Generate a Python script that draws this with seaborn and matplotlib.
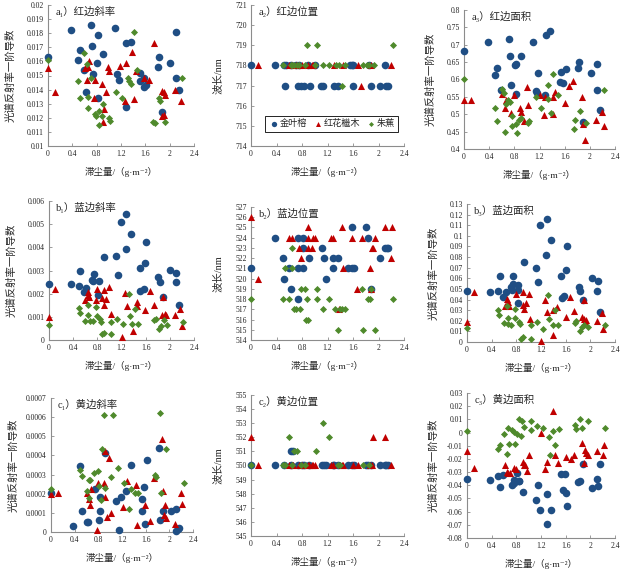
import numpy as np
import pandas as pd
import seaborn as sns
import matplotlib.pyplot as plt
from matplotlib.ticker import MultipleLocator, FuncFormatter

# 物种
species = ['金叶榕', '红花檵木', '朱蕉']

# a1 红边斜率 (x=滞尘量, y)
a1_blue = [(0, .0163), (.37, .0182), (.71, .0186), (1.10, .0184), (.83, .0179), (.72, .0171), (.52, .0168),
           (.49, .0161), (.90, .0165), (.81, .0159), (.59, .0154), (.74, .0151), (.62, .0138), (.82, .0134),
           (1.13, .0151), (1.17, .0147), (1.28, .0128), (1.29, .0173), (1.36, .0174), (1.52, .0152), (1.52, .0146),
           (1.57, .0148), (1.58, .0142), (1.61, .0143), (1.82, .0163), (1.80, .0156), (1.87, .0124), (2.01, .0159),
           (2.11, .0181), (2.10, .0148), (2.15, .0140)]
a1_red = [(0, .0155), (.11, .0138), (.60, .0155), (.66, .0156), (.64, .0147), (.67, .0160), (.78, .0147), (.76, .0134),
          (.89, .0144), (.95, .0138), (.92, .0126), (.90, .0117), (.98, .0156), (1.01, .0153), (1.19, .0157),
          (1.28, .0159), (1.27, .0132), (1.38, .0167), (1.41, .0133), (1.45, .0153), (1.57, .0148), (1.66, .0147),
          (1.74, .0173), (1.88, .0139), (1.90, .0138), (1.93, .0136), (1.87, .0121), (1.91, .0122), (2.09, .0140),
          (2.18, .0132)]
a1_green = [(0, .0161), (.49, .0146), (.52, .0134), (.59, .0166), (.64, .0158), (.66, .0135), (.65, .0127), (.71, .0148),
            (.78, .0123), (.79, .0121), (.84, .0125), (.84, .0115), (.88, .0121), (.90, .0130), (1.01, .0120),
            (1.02, .0118), (1.12, .0138), (1.22, .0134), (1.32, .0148), (1.33, .0146), (1.37, .0144), (1.41, .0181),
            (1.47, .0154), (1.73, .0117), (1.76, .0116), (1.82, .0134), (1.84, .0132), (1.93, .0117), (2.21, .0148)]

# a2 红边位置
a2_blue = [(0, 718), (.38, 718), (.51, 718), (.55, 718), (.62, 718), (.70, 718), (.75, 718), (.90, 718), (1.00, 718),
           (1.55, 718), (1.58, 718), (1.60, 718), (1.85, 718), (2.10, 718),
           (.53, 717), (.73, 717), (.78, 717), (.83, 717), (.92, 717), (1.10, 717), (1.13, 717), (1.30, 717),
           (1.37, 717), (1.60, 717), (1.88, 717), (2.02, 717), (2.12, 717), (2.15, 717)]
a2_red = [(.11, 718), (.60, 718), (.65, 718), (.70, 718), (.75, 718), (.80, 718), (.90, 718), (.95, 718), (.98, 718),
          (1.30, 718), (1.45, 718), (1.68, 718), (1.88, 718), (2.20, 718), (1.73, 717)]
a2_green = [(.50, 718), (.62, 718), (.64, 718), (.67, 718), (.72, 718), (.76, 718), (.84, 718), (1.01, 718), (1.13, 718),
            (1.23, 718), (1.33, 718), (1.38, 718), (1.48, 718), (1.76, 718), (1.82, 718), (1.85, 718), (1.93, 718),
            (.88, 719), (1.03, 719), (2.22, 719), (1.42, 717)]

# a3 红边面积
a3_blue = [(0, .682), (.38, .708), (.50, .613), (.53, .632), (.59, .569), (.72, .716), (.73, .668), (.75, .585),
           (.81, .642), (.83, .645), (.83, .559), (.91, .668), (1.10, .707), (1.16, .560), (1.18, .618), (1.14, .567),
           (1.29, .556), (1.30, .729), (1.37, .740), (1.52, .594), (1.54, .621), (1.58, .590), (1.62, .631),
           (1.81, .633), (1.83, .650), (1.89, .477), (2.02, .619), (2.11, .569), (2.12, .644), (2.16, .512)]
a3_red = [(0, .542), (.11, .542), (.60, .559), (.65, .519), (.66, .540), (.75, .503), (.80, .555), (.89, .519),
          (.91, .506), (.95, .482), (1.00, .579), (1.02, .527), (1.21, .554), (1.27, .498), (1.29, .549), (1.41, .500),
          (1.42, .549), (1.45, .563), (1.60, .533), (1.67, .581), (1.74, .596), (1.87, .550), (1.89, .471),
          (1.93, .425), (2.10, .484), (2.20, .507), (2.22, .465)]
a3_green = [(0, .602), (.49, .519), (.53, .480), (.61, .572), (.64, .561), (.66, .529), (.65, .449), (.70, .542),
            (.73, .536), (.77, .496), (.77, .465), (.83, .471), (.85, .447), (.87, .484), (.90, .490), (1.02, .476),
            (1.04, .482), (1.14, .551), (1.23, .517), (1.33, .585), (1.34, .544), (1.39, .505), (1.41, .616),
            (1.49, .555), (1.76, .484), (1.75, .458), (1.85, .510), (1.94, .474), (2.23, .571)]

# b1 蓝边斜率
b1_blue = [(0, .00241), (.37, .00242), (.49, .00233), (.52, .00299), (.58, .00207), (.62, .00223), (.71, .00261),
           (.74, .00284), (.73, .00253), (.82, .00255), (.81, .00195), (.91, .00359), (1.11, .00362), (1.14, .00282),
           (1.19, .00508), (1.27, .00393), (1.28, .00545), (1.36, .00459), (1.51, .00310), (1.51, .00212),
           (1.57, .00218), (1.59, .00333), (1.61, .00422), (1.80, .00272), (1.83, .00249), (1.88, .00185),
           (2.01, .00304), (2.10, .00250), (2.11, .00290), (2.15, .00152)]
b1_red = [(0, .00098), (.10, .00218), (.60, .00172), (.64, .00195), (.65, .00207), (.66, .00184), (.77, .00172),
          (.80, .00221), (.88, .00181), (.91, .00215), (.91, .00149), (.95, .00178), (.99, .00227), (1.02, .00112),
          (1.21, .00014), (1.26, .00201), (1.29, .00146), (1.39, .00040), (1.45, .00163), (1.45, .00146),
          (1.59, .00129), (1.67, .00210), (1.73, .00149), (1.87, .00109), (1.89, .00184), (1.92, .00112),
          (1.93, .00106), (2.09, .00106), (2.17, .00135), (2.20, .00060)]
b1_green = [(0, .00066), (.49, .00138), (.51, .00118), (.60, .00080), (.64, .00149), (.65, .00109), (.68, .00080),
            (.72, .00080), (.78, .00141), (.79, .00103), (.84, .00089), (.86, .00077), (.87, .00026), (.91, .00029),
            (1.02, .00077), (1.03, .00026), (1.13, .00092), (1.23, .00069), (1.32, .00198), (1.34, .00103),
            (1.38, .00069), (1.42, .00135), (1.48, .00069), (1.74, .00086), (1.77, .00089), (1.82, .00049),
            (1.86, .00060), (1.90, .00086), (1.95, .00066), (2.21, .00077)]

# b2 蓝边位置
b2_blue = [(0, 521), (.38, 524), (.50, 522), (.52, 520), (.60, 521), (.62, 519), (.73, 524), (.73, 521), (.74, 518),
           (.81, 524), (.82, 523), (.82, 521), (.91, 522), (1.12, 523), (1.14, 522), (1.18, 520), (1.28, 522),
           (1.29, 521), (1.36, 522), (1.58, 525), (1.52, 521), (1.58, 521), (1.61, 521), (1.81, 525), (1.84, 524),
           (1.88, 519), (2.03, 522), (2.10, 523), (2.13, 523), (2.15, 523)]
b2_red = [(0, 526), (.11, 520), (.59, 524), (.64, 524), (.76, 523), (.79, 522), (.89, 525), (.90, 524), (.90, 523),
          (.95, 523), (.98, 524), (1.01, 524), (1.26, 524), (1.29, 524), (1.38, 517), (1.42, 525), (1.45, 521),
          (1.58, 524), (1.67, 519), (1.74, 524), (1.94, 524), (1.90, 523), (1.92, 523), (1.86, 521), (1.88, 519),
          (2.10, 525), (2.21, 525), (2.19, 522)]
b2_green = [(0, 518), (.50, 518), (.53, 521), (.59, 518), (.64, 523), (.65, 521), (.67, 517), (.71, 517), (.77, 517),
            (.78, 519), (.84, 519), (.88, 518), (.86, 516), (.90, 516), (1.03, 519), (1.03, 518), (1.13, 517),
            (1.23, 518), (1.32, 517), (1.37, 515), (1.39, 517), (1.42, 517), (1.48, 517), (1.84, 518), (1.86, 518),
            (1.74, 519), (1.76, 515), (1.88, 519), (1.95, 515), (2.22, 518)]

# b3 蓝边面积
b3_blue = [(0, .0478), (.38, .0467), (.50, .0478), (.53, .0625), (.59, .0420), (.63, .0467), (.72, .0521),
           (.73, .0492), (.75, .0625), (.75, .0543), (.83, .0536), (.83, .0372), (.83, .0492), (.92, .0751),
           (1.12, .0700), (1.15, .0562), (1.19, .110), (1.28, .0820), (1.30, .116), (1.36, .0959), (1.53, .0618),
           (1.54, .0410), (1.58, .0429), (1.60, .0675), (1.62, .0902), (1.81, .0518), (1.84, .0478), (1.88, .0391),
           (2.03, .0599), (2.11, .0478), (2.12, .0574), (2.16, .0284)]
b3_red = [(0, .0189), (.11, .0467), (.61, .0341), (.65, .0404), (.67, .0379), (.68, .0341), (.79, .0454), (.90, .0347),
          (.91, .0467), (.92, .0315), (.96, .0366), (1.00, .0454), (1.02, .0214), (1.20, .0013), (1.27, .0397),
          (1.30, .0284), (1.39, .0066), (1.40, .0297), (1.46, .0328), (1.60, .0233), (1.67, .0423), (1.74, .0290),
          (1.86, .0233), (1.89, .0391), (1.90, .0214), (1.91, .0189), (1.93, .0208), (2.10, .0202), (2.19, .0271),
          (2.21, .0120)]
b3_green = [(0, .0132), (.50, .0297), (.52, .0252), (.60, .0177), (.65, .0341), (.66, .0227), (.67, .0170),
            (.72, .0164), (.78, .0309), (.78, .0227), (.85, .0189), (.86, .0170), (.88, .0032), (.90, .0047),
            (1.03, .0164), (1.04, .0032), (1.13, .0189), (1.24, .0126), (1.32, .0442), (1.33, .0214), (1.39, .0158),
            (1.43, .0297), (1.48, .0158), (1.75, .0183), (1.77, .0196), (1.84, .0107), (1.86, .0145), (1.90, .0164),
            (1.96, .0145), (2.23, .0164)]

# c1 黄边斜率
c1_blue = [(0, .000205), (.38, .000031), (.49, .000345), (.53, .000108), (.60, .000052), (.63, .000052),
           (.74, .000226), (.81, .000063), (.83, .000181), (.83, .000111), (.91, .000415), (1.10, .000160),
           (1.15, .000010), (1.19, .000185), (1.27, .000213), (1.36, .000352), (1.53, .000111), (1.54, .000174),
           (1.58, .000233), (1.59, .000042), (1.62, .000376), (1.82, .000439), (1.84, .000063), (1.89, .000111),
           (2.03, .000108), (2.11, .000118), (2.12, .000003), (2.16, .000021), (2.15, .000017)]
c1_red = [(0, .000198), (.11, .000205), (.60, .000202), (.64, .000174), (.66, .000143), (.68, .000226), (.77, .000010),
          (.80, .000254), (.90, .000254), (.91, .000425), (.92, .000185), (.98, .000387), (.95, .000077),
          (1.02, .000101), (1.22, .000129), (1.28, .000268), (1.44, .000247), (1.45, .000035), (1.59, .000139),
          (1.68, .000059), (1.74, .000282), (1.87, .000488), (1.90, .000216), (1.91, .000087), (1.94, .000073),
          (1.93, .000139), (2.10, .000042), (2.20, .000202), (2.21, .000146)]
c1_green = [(0, .000226), (.49, .000324), (.53, .000293), (.61, .000216), (.64, .000272), (.66, .000272),
            (.65, .000178), (.73, .000310), (.79, .000317), (.81, .000240), (.84, .000167), (.86, .000436),
            (.89, .000613), (.91, .000230), (1.04, .000610), (1.02, .000289), (1.14, .000335), (1.23, .000254),
            (1.32, .000122), (1.35, .000223), (1.42, .000202), (1.47, .000205), (1.76, .000300), (1.78, .000289),
            (1.85, .000624), (1.86, .000202), (1.95, .000436), (2.24, .000258)]

# c2 黄边位置
c2_blue = [(0, 550), (.38, 550), (.51, 550), (.62, 550), (.73, 550), (.80, 550), (.83, 550), (.91, 550), (1.12, 550),
           (1.15, 550), (1.18, 550), (1.28, 550), (1.30, 550), (1.36, 550), (1.52, 550), (1.58, 550), (1.61, 550),
           (1.81, 550), (1.84, 550), (1.88, 550), (2.03, 550), (2.10, 550), (2.12, 550), (2.15, 550),
           (.63, 551), (.66, 551)]
c2_red = [(0, 552), (.11, 550), (.60, 550), (.64, 550), (.66, 550), (.76, 550), (.80, 550), (.89, 550), (.91, 550),
          (.95, 550), (.98, 550), (1.01, 550), (1.26, 550), (1.29, 550), (1.42, 550), (1.45, 550), (1.60, 550),
          (1.68, 550), (1.86, 550), (1.90, 550), (2.20, 550), (1.92, 552), (2.10, 552)]
c2_green = [(0, 550), (.50, 550), (.53, 550), (.65, 550), (.79, 550), (.84, 550), (1.36, 550), (1.39, 550),
            (1.76, 550), (1.85, 550), (.60, 552), (1.23, 552), (.67, 551), (.72, 551), (1.02, 551), (1.13, 553)]

# c3 黄边面积
c3_blue = [(0, -.0351), (.38, -.0361), (.50, -.0330), (.53, -.0416), (.59, -.0325), (.73, -.0396), (.76, -.0361),
           (.77, -.0381), (.81, -.0308), (.84, -.0366), (.85, -.0371), (.91, -.0452), (1.12, -.0508), (1.15, -.0401),
           (1.19, -.0584), (1.29, -.0467), (1.30, -.0690), (1.37, -.0589), (1.53, -.0311), (1.56, -.0437),
           (1.59, -.0315), (1.60, -.0457), (1.62, -.0559), (1.80, -.0376), (1.84, -.0366), (1.88, -.0235),
           (2.02, -.0421), (2.11, -.0351), (2.12, -.0406), (2.16, -.0239)]
c3_red = [(0, -.0143), (.11, -.0270), (.61, -.0249), (.65, -.0300), (.67, -.0310), (.70, -.0305), (.77, -.0270),
          (.79, -.0280), (.90, -.0224), (.92, -.0244), (.94, -.0244), (.97, -.0295), (1.01, -.0173), (1.20, -.0004),
          (1.27, -.0280), (1.30, -.0224), (1.40, .0161), (1.43, -.0173), (1.47, -.0229), (1.60, -.0189),
          (1.68, -.0199), (1.74, -.0173), (1.87, -.0082), (1.89, -.0234), (1.91, -.0133), (1.93, -.0158),
          (1.96, -.0173), (2.11, -.0138), (2.21, -.0168), (2.22, -.0092)]
c3_green = [(0, .0009), (.50, -.0123), (.53, -.0097), (.60, -.0011), (.65, -.0163), (.67, .0034), (.68, -.0087),
            (.73, .0019), (.76, .0004), (.78, -.0087), (.81, -.0011), (.85, .0100), (.87, -.0027), (.89, .0085),
            (.92, .0039), (1.03, .0019), (1.04, .0085), (1.14, .0049), (1.24, .0034), (1.33, -.0037), (1.35, -.0173),
            (1.39, .0014), (1.43, -.0092), (1.49, .0024), (1.75, .0054), (1.77, .0029), (1.84, .0105), (1.86, .0034),
            (1.96, .0085), (2.24, .0034)]

titles = ['a₁）红边斜率', 'a₂）红边位置', 'a₃）红边面积',
          'b₁）蓝边斜率', 'b₂）蓝边位置', 'b₃）蓝边面积',
          'c₁）黄边斜率', 'c₂）黄边位置', 'c₃）黄边面积']

colors = ['#1f4e84', '#c00000', '#4f8a2c']
markers = ['o', '^', 'D']
sizes = [30, 26, 13]

sns.set_style('ticks')
plt.rcParams['font.family'] = ['Liberation Serif', 'DejaVu Serif', 'Noto Sans CJK SC']

fig = plt.figure(figsize=(6.29, 5.71), dpi=100)
W, H = 629, 571

# 面板: 数据, 像素框(左,上,右,下), y范围, y步长
panels = [
    ((a1_blue, a1_red, a1_green), (48, 5, 194, 146), (0.01, 0.02), 0.001),
    ((a2_blue, a2_red, a2_green), (251, 5, 404, 146), (714, 721), 1),
    ((a3_blue, a3_red, a3_green), (464, 10, 615, 149), (0.4, 0.8), 0.05),
    ((b1_blue, b1_red, b1_green), (49, 201, 194, 340), (0, 0.006), 0.001),
    ((b2_blue, b2_red, b2_green), (251, 207, 404, 340), (514, 527), 1),
    ((b3_blue, b3_red, b3_green), (467, 204, 615, 342), (0, 0.13), 0.01),
    ((c1_blue, c1_red, c1_green), (51, 398, 193, 532), (0, 0.0007), 0.0001),
    ((c2_blue, c2_red, c2_green), (251, 395, 404, 536), (545, 555), 1),
    ((c3_blue, c3_red, c3_green), (467, 393, 615, 538), (-0.08, 0.03), 0.01),
]

fmt = FuncFormatter(lambda v, p: f"{round(v, 6) + 0.0:g}")

for i, (series, (l, t, r, b), ylim, ystep) in enumerate(panels):
    ax = fig.add_axes([l / W, 1 - b / H, (r - l) / W, (b - t) / H])
    for k, pts in enumerate(series):
        df = pd.DataFrame(pts, columns=['x', 'y'])
        sns.scatterplot(data=df, x='x', y='y', marker=markers[k], color=colors[k], s=sizes[k],
                        linewidth=0, ax=ax, label=species[k], clip_on=False, zorder=3 + k)
    ax.set_xlim(0, 2.4)
    ax.set_ylim(*ylim)
    ax.xaxis.set_major_locator(MultipleLocator(0.4))
    ax.yaxis.set_major_locator(MultipleLocator(ystep))
    ax.xaxis.set_major_formatter(fmt)
    ax.yaxis.set_major_formatter(fmt)
    for s in ['top', 'right']:
        ax.spines[s].set_visible(False)
    for s in ['left', 'bottom']:
        ax.spines[s].set_color('#8c8c8c')
        ax.spines[s].set_linewidth(0.8)
    ax.tick_params(labelsize=5.5, length=2, width=0.6, direction='in', color='#8c8c8c', pad=3,
                   labelcolor='#222222')
    ax.set_xlabel('滞尘量/（g·m⁻²）', fontsize=6.8)
    ax.xaxis.set_label_coords(0.5, -21 / (b - t))
    if i % 3 == 1:
        ax.set_ylabel('波长/nm', fontsize=7.5)
        ax.yaxis.set_label_coords(-28 / (r - l), 0.5)
    else:
        ax.set_ylabel('光谱反射率一阶导数', fontsize=7.5)
        ax.yaxis.set_label_coords(-(32 if i % 3 == 0 else 28) / (r - l), 0.5)
    ax.text(0.05, 0.995, titles[i], transform=ax.transAxes, ha='left', va='top', fontsize=7.5)
    if i == 1:
        ax.legend(loc='lower right', bbox_to_anchor=(0.99, 0.07), ncol=3, fontsize=6.6,
                  frameon=True, fancybox=False, edgecolor='black', framealpha=1, markerscale=0.7,
                  handletextpad=0.0, columnspacing=0.6, borderpad=0.35, handlelength=1.2)
        ax.get_legend().get_frame().set_linewidth(0.6)
    else:
        ax.get_legend().remove()

plt.savefig('out.png', dpi=100)
